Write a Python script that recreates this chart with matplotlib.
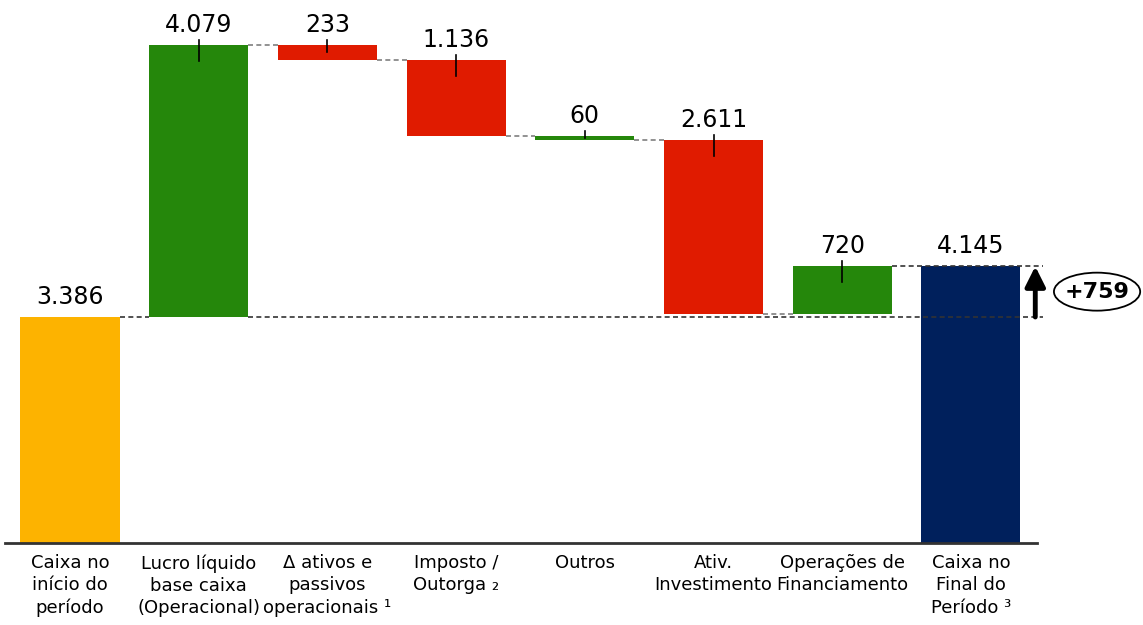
import matplotlib
matplotlib.use("Agg")
import matplotlib.pyplot as plt
from matplotlib.patches import Ellipse

# waterfall data (R$ mn)
categories = ["Caixa no\ninício do\nperíodo",
              "Lucro líquido\nbase caixa\n(Operacional)",
              "Δ ativos e\npassivos\noperacionais ¹",
              "Imposto /\nOutorga ₂",
              "Outros",
              "Ativ.\nInvestimento",
              "Operações de\nFinanciamento",
              "Caixa no\nFinal do\nPeríodo ³"]
start_value = 3386
end_value = 4145
steps = [4079, -233, -1136, -60, -2611, 720]
step_colors = ["#25870b", "#e01b00", "#e01b00", "#25870b", "#e01b00", "#25870b"]
start_color = "#fdb300"
end_color = "#00205c"


def fmt(v):
    return f"{abs(v):,}".replace(",", ".")


fig = plt.figure(figsize=(11.43, 6.25), dpi=100)
ax = fig.add_axes([0, 82 / 625, 1, 543 / 625])
ymax = 8135
ax.set_ylim(0, ymax)
ax.set_xlim(-0.544, 8.337)
px = 543 / ymax  # pixels per unit
w = 0.77
n = len(categories)

ax.bar(0, start_value, width=w, color=start_color, zorder=2)
ax.bar(n - 1, end_value, width=w, color=end_color, zorder=2)

lab_kw = dict(ha="center", va="baseline", fontsize=17, color="black")
ax.text(0, start_value + 13 / px, fmt(start_value), **lab_kw)
ax.text(n - 1, end_value + 13 / px, fmt(end_value), **lab_kw)

level = start_value
levels = [level]
for i, (d, c) in enumerate(zip(steps, step_colors), start=1):
    lo, hi = sorted([level, level + d])
    ax.bar(i, hi - lo, bottom=lo, width=w, color=c, zorder=2)
    ax.text(i, hi + 13 / px, fmt(d), **lab_kw)
    h = hi - lo
    ax.plot([i, i], [hi + 5 / px, hi - min(16 / px, h / 2)],
            color="black", lw=1.2, zorder=3)
    level += d
    levels.append(level)

# connectors between bars
for i in range(1, n - 2):
    ax.plot([i + w / 2, i + 1 - w / 2], [levels[i], levels[i]],
            color="#7f7f7f", lw=1.2, ls=(0, (3, 2)), zorder=1)
ax.plot([w / 2, 1 - w / 2], [start_value, start_value],
        color="#333333", lw=1.2, ls=(0, (3, 2)), zorder=1)

x_arrow = 7.5
x_end = 7.56
ax.plot([1 + w / 2, x_end], [start_value, start_value],
        color="#333333", lw=1.2, ls=(0, (3, 2)), zorder=4)
ax.plot([n - 2 + w / 2, x_end], [end_value, end_value],
        color="#333333", lw=1.2, ls=(0, (3, 2)), zorder=4)

ax.annotate("", xy=(x_arrow, end_value), xytext=(x_arrow, start_value),
            arrowprops=dict(arrowstyle="-|>", lw=3.5, color="black",
                            mutation_scale=30, shrinkA=0, shrinkB=0),
            zorder=5)

mid = (start_value + end_value) / 2
ax.add_patch(Ellipse((7.98, mid), 0.67, 38 / px, fill=False,
                     edgecolor="black", lw=1.3, clip_on=False))
ax.text(7.98, mid, f"+{end_value - start_value}", ha="center", va="center",
        fontsize=16, fontweight="bold")

# axis line
ax.plot([-0.505, 7.514], [0, 0], color="#333333", lw=2, clip_on=False,
        zorder=3)

ax.set_xticks(range(n))
ax.set_xticklabels(categories, fontsize=13, linespacing=1.3)
ax.tick_params(axis="x", length=0, pad=8)
ax.set_yticks([])
for s in ax.spines.values():
    s.set_visible(False)

fig.savefig("out.png", dpi=100)
